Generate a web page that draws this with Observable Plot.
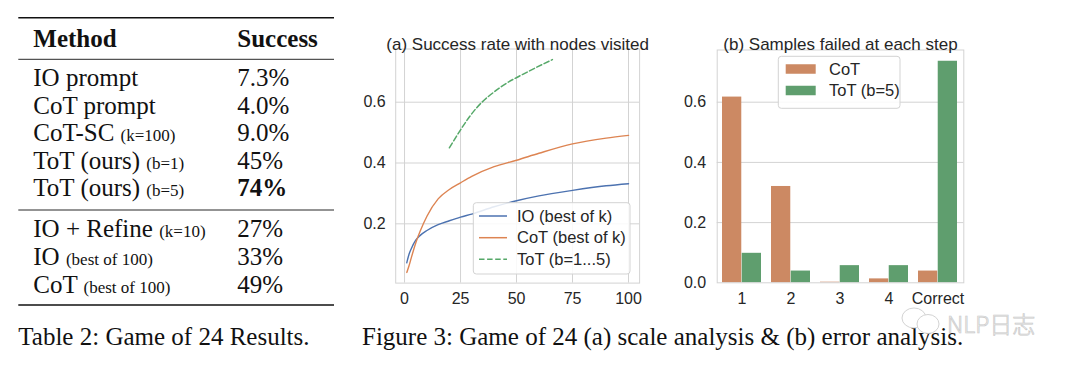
<!DOCTYPE html>
<html><head><meta charset="utf-8">
<script src="https://cdn.jsdelivr.net/npm/d3@7"></script>
<script src="https://cdn.jsdelivr.net/npm/@observablehq/plot@0.6"></script>
<style>
html,body{margin:0;padding:0;background:#fff;}
#root{position:relative;width:1080px;height:367px;overflow:hidden;background:#fff;}
#root > svg, #root > div{position:absolute;}
</style></head><body><div id="root"></div>
<script>
// ---------- Table 2 data ----------
const methods = ["IO prompt","CoT prompt","CoT-SC","ToT (ours)","ToT (ours)","IO + Refine","IO","CoT"];
const methodNotes = ["","","(k=100)","(b=1)","(b=5)","(k=10)","(best of 100)","(best of 100)"];
const successRates = ["7.3%","4.0%","9.0%","45%","74%","27%","33%","49%"];
const boldRows = [4];
const tableHeader = ["Method","Success"];
const tableCaption = "Table 2: Game of 24 Results.";

// ---------- Figure (a) data ----------
const ioK = [1,2,3,5,7,10,15,20,25,30,40,50,60,75,90,100];
const ioSuccess = [0.072,0.100,0.118,0.146,0.162,0.178,0.197,0.210,0.222,0.232,0.256,0.276,0.292,0.310,0.325,0.332];
const cotK = [1,2,3,5,7,10,15,20,25,30,40,50,60,75,90,100];
const cotSuccess = [0.040,0.062,0.088,0.137,0.176,0.225,0.282,0.313,0.335,0.356,0.388,0.409,0.432,0.463,0.482,0.491];
const totNodes = [20,32,43,55,66];
const totSuccess = [0.45,0.58,0.65,0.70,0.74];
const xTicksA = [0,25,50,75,100];
const yTicksA = [0.2,0.4,0.6];
const titleA = "(a) Success rate with nodes visited";
const legendA = ["IO (best of k)","CoT (best of k)","ToT (b=1...5)"];

// ---------- Figure (b) data ----------
const steps = ["1","2","3","4","Correct"];
const cotFailed = [0.617,0.320,0.002,0.013,0.039];
const totFailed = [0.098,0.039,0.057,0.057,0.736];
const yTicksB = [0,0.2,0.4,0.6];
const titleB = "(b) Samples failed at each step";
const legendB = ["CoT","ToT (b=5)"];

const figCaption = "Figure 3: Game of 24 (a) scale analysis & (b) error analysis.";
const watermark = "NLP日志";

// ---------- styles ----------
const C = {io:"#4c72b0", cot:"#dd8452", tot:"#55a868", cotBar:"#cc8963", totBar:"#5f9e6e", grid:"#d3d3d3", text:"#262626"};
const SANS = "'Liberation Sans', Arial, sans-serif";
const SERIF = "'Liberation Serif', 'Times New Roman', serif";
const root = document.getElementById("root");
const fmt1 = d3.format(".1f");

// ---------- Figure (a) ----------
const A = {left:340, top:0, width:320, height:320, ml:55.2, mr:20.9, mt:48.5, mb:37.4};
const io = ioK.map((k,i)=>({k, v:ioSuccess[i]}));
const cot = cotK.map((k,i)=>({k, v:cotSuccess[i]}));
const tot = totNodes.map((k,i)=>({k, v:totSuccess[i]}));
const plotA = Plot.plot({
  width:A.width, height:A.height, marginLeft:A.ml, marginRight:A.mr, marginTop:A.mt, marginBottom:A.mb,
  style:{fontFamily:SANS, fontSize:"16px", color:C.text, background:"transparent", overflow:"visible"},
  x:{domain:[-3.95,104.95], label:null},
  y:{domain:[0.005,0.775], label:null},
  marks:[
    Plot.gridX(xTicksA, {stroke:C.grid, strokeOpacity:1, strokeWidth:1}),
    Plot.gridY(yTicksA, {stroke:C.grid, strokeOpacity:1, strokeWidth:1}),
    Plot.frame({stroke:C.grid, strokeWidth:1}),
    Plot.axisX(xTicksA, {tickSize:0, tickPadding:10, label:null}),
    Plot.axisY(yTicksA, {tickSize:0, tickPadding:10, tickFormat:fmt1, label:null}),
    Plot.line(io, {x:"k", y:"v", stroke:C.io, strokeWidth:1.4, curve:"monotone-x"}),
    Plot.line(cot, {x:"k", y:"v", stroke:C.cot, strokeWidth:1.4, curve:"monotone-x"}),
    Plot.line(tot, {x:"k", y:"v", stroke:C.tot, strokeWidth:1.5, strokeDasharray:"5.5,2.6", curve:"monotone-x"}),
    Plot.text([titleA], {frameAnchor:"top", dy:-11, fontSize:17, fill:C.text})
  ]
});
plotA.style.left = A.left+"px"; plotA.style.top = A.top+"px"; plotA.style.position = "absolute";
root.appendChild(plotA);

// ---------- Figure (b) ----------
const B = {left:670, top:0, width:320, height:320, ml:46.7, mr:26.7, mt:49.5, mb:37.7};
const half = (B.width - B.ml - B.mr) / steps.length * 0.8 / 2;
const cotB = steps.map((s,i)=>({s, v:cotFailed[i]}));
const totB = steps.map((s,i)=>({s, v:totFailed[i]}));
const plotB = Plot.plot({
  width:B.width, height:B.height, marginLeft:B.ml, marginRight:B.mr, marginTop:B.mt, marginBottom:B.mb,
  style:{fontFamily:SANS, fontSize:"16px", color:C.text, background:"transparent", overflow:"visible"},
  x:{type:"band", domain:steps, paddingInner:0.2, paddingOuter:0.1, label:null},
  y:{domain:[0,0.7734], label:null},
  marks:[
    Plot.gridY(yTicksB.filter(d=>d>0), {stroke:C.grid, strokeOpacity:1, strokeWidth:1}),
    Plot.barY(cotB, {x:"s", y:"v", fill:C.cotBar, insetRight:half}),
    Plot.barY(totB, {x:"s", y:"v", fill:C.totBar, insetLeft:half}),
    Plot.frame({stroke:C.grid, strokeWidth:1}),
    Plot.axisX({tickSize:0, tickPadding:10, label:null}),
    Plot.axisY(yTicksB, {tickSize:0, tickPadding:11, tickFormat:fmt1, label:null}),
    Plot.text([titleB], {frameAnchor:"top", dy:-12, fontSize:17, fill:C.text})
  ]
});
plotB.style.left = B.left+"px"; plotB.style.top = B.top+"px"; plotB.style.position = "absolute";
root.appendChild(plotB);

// ---------- overlay: table, legends, captions ----------
const svg = d3.select(root).append("svg")
  .attr("width",1080).attr("height",367)
  .style("left","0px").style("top","0px").style("position","absolute")
  .style("pointer-events","none");

// table rules
const ruleX0 = 18.3, ruleX1 = 334;
[[17.7,1.5],[59.3,0.9],[210,0.9],[305,1.5]].forEach(([y,w])=>{
  svg.append("line").attr("x1",ruleX0).attr("x2",ruleX1).attr("y1",y).attr("y2",y)
    .attr("stroke","#111").attr("stroke-width",w);
});
const colX = [33.3, 237.3];
tableHeader.forEach((h,i)=>{
  svg.append("text").attr("x",colX[i]).attr("y",46.7)
    .attr("font-family",SERIF).attr("font-size",25).attr("font-weight","bold").attr("fill","#111").text(h);
});
const rowY = [86,113.6,141.2,168.8,196.4,237,264.8,292.6];
methods.forEach((m,i)=>{
  const t = svg.append("text").attr("x",colX[0]).attr("y",rowY[i])
    .attr("font-family",SERIF).attr("font-size",25).attr("fill","#111")
    .style("white-space","pre");
  t.append("tspan").text(methodNotes[i] ? m+" " : m);
  if (methodNotes[i]) t.append("tspan").attr("font-size",17).text(methodNotes[i]);
  svg.append("text").attr("x",colX[1]).attr("y",rowY[i])
    .attr("font-family",SERIF).attr("font-size",25).attr("fill","#111")
    .attr("font-weight", boldRows.includes(i) ? "bold" : "normal").text(successRates[i]);
});
svg.append("text").attr("x",18.3).attr("y",345).attr("font-family",SERIF).attr("font-size",25)
  .attr("fill","#111").text(tableCaption);
svg.append("text").attr("x",362).attr("y",345).attr("font-family",SERIF).attr("font-size",25)
  .attr("fill","#111").text(figCaption);

// legend (a)
const lgA = svg.append("g");
lgA.append("rect").attr("x",473.3).attr("y",202.7).attr("width",156.7).attr("height",71.3).attr("rx",3)
  .attr("fill","#fff").attr("fill-opacity",0.85).attr("stroke",C.grid).attr("stroke-width",1);
const lgAy = [216,237.7,259.3];
const lgAstyle = [{c:C.io,d:null},{c:C.cot,d:null},{c:C.tot,d:"5.5,2.6"}];
legendA.forEach((lab,i)=>{
  lgA.append("line").attr("x1",479).attr("x2",507).attr("y1",lgAy[i]).attr("y2",lgAy[i])
    .attr("stroke",lgAstyle[i].c).attr("stroke-width",1.5).attr("stroke-dasharray",lgAstyle[i].d);
  lgA.append("text").attr("x",517).attr("y",lgAy[i]).attr("dy","0.35em")
    .attr("font-family",SANS).attr("font-size",16.5).attr("fill",C.text).text(lab);
});

// legend (b)
const lgB = svg.append("g");
lgB.append("rect").attr("x",778.3).attr("y",56.3).attr("width",121.7).attr("height",52).attr("rx",3)
  .attr("fill","#fff").attr("fill-opacity",0.85).attr("stroke",C.grid).attr("stroke-width",1);
const lgBy = [69,90.5];
const lgBc = [C.cotBar, C.totBar];
legendB.forEach((lab,i)=>{
  lgB.append("rect").attr("x",785.7).attr("y",lgBy[i]-4.75).attr("width",30).attr("height",9.5).attr("fill",lgBc[i]);
  lgB.append("text").attr("x",829).attr("y",lgBy[i]).attr("dy","0.35em")
    .attr("font-family",SANS).attr("font-size",16.5).attr("fill",C.text).text(lab);
});

// watermark
const wm = svg.append("g").attr("opacity",0.9);
wm.append("ellipse").attr("cx",914).attr("cy",318).attr("rx",12).attr("ry",10)
  .attr("fill","none").attr("stroke","#cfcfcf").attr("stroke-width",1);
wm.append("ellipse").attr("cx",928).attr("cy",324).attr("rx",11).attr("ry",9.5)
  .attr("fill","#fff").attr("stroke","#cfcfcf").attr("stroke-width",1);
wm.append("text").attr("x",947).attr("y",333).attr("font-family","'Noto Sans CJK SC', 'Noto Sans', sans-serif")
  .attr("font-size",23).attr("font-weight",300).attr("fill","#f4f4f4").attr("stroke","#c4c4c4").attr("stroke-width",0.7)
  .text(watermark);
</script></body></html>
